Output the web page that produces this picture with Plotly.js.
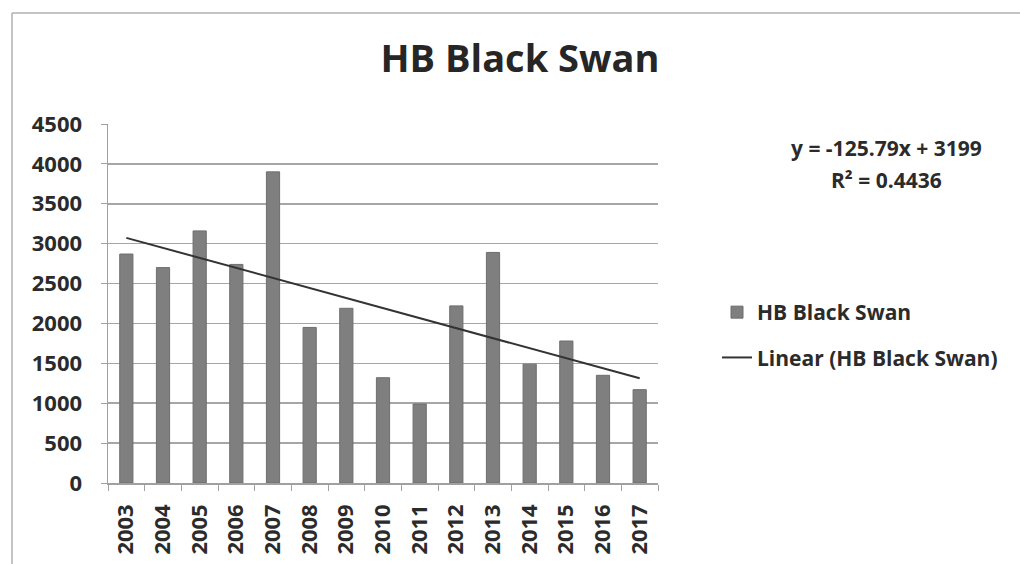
<!DOCTYPE html>
<html>
<head>
<meta charset="utf-8">
<script src="https://cdn.plot.ly/plotly-3.0.1.min.js"></script>
<style>
  html, body { margin: 0; padding: 0; background: #ffffff; }
  #chart { width: 1020px; height: 564px; }
</style>
</head>
<body>
<div id="chart"></div>
<script>
// ---- data ----
const years = ['2003','2004','2005','2006','2007','2008','2009','2010','2011','2012','2013','2014','2015','2016','2017'];
const blackSwan = [2870, 2700, 3160, 2740, 3900, 1950, 2190, 1320, 990, 2220, 2890, 1490, 1780, 1350, 1170];
const trendYears = ['2003', '2017'];
const trendValues = [3073, 1312];
const equationLines = ['y = -125.79x + 3199', 'R\u00b2 = 0.4436'];
const yTicks = [0, 500, 1000, 1500, 2000, 2500, 3000, 3500, 4000, 4500];

// ---- layout geometry ----
const W = 1020, H = 564;
const M = { l: 108, r: 362, t: 124, b: 81 };
const PW = W - M.l - M.r, PH = H - M.t - M.b;
const px = x => (x - M.l) / PW;
const py = y => (H - M.b - y) / PH;

const font = '"Open Sans", "Liberation Sans", sans-serif';
const textCol = '#2b2b2b';

const traces = [
  {
    type: 'bar',
    name: 'HB Black Swan',
    x: years,
    y: blackSwan,
    marker: { color: '#7f7f7f', line: { color: '#6e6e6e', width: 1 } },
    legendgroup: 'a',
    hoverinfo: 'x+y'
  },
  {
    type: 'scatter',
    mode: 'lines',
    name: 'Linear (HB Black Swan)',
    x: trendYears,
    y: trendValues,
    line: { color: '#333333', width: 2 },
    legendgroup: 'b'
  }
];

const layout = {
  width: W, height: H,
  margin: M,
  paper_bgcolor: '#ffffff',
  plot_bgcolor: '#ffffff',
  font: { family: font, color: textCol, size: 21 },
  bargap: 0.64,
  title: {
    text: '<b>HB Black Swan</b>',
    font: { family: font, size: 38, color: '#262626' },
    x: 520 / W, xref: 'container', xanchor: 'center',
    y: 1 - 59 / H, yref: 'container', yanchor: 'middle'
  },
  xaxis: {
    type: 'category',
    tickangle: -90,
    tickson: 'boundaries',
    ticks: 'outside', ticklen: 6, tickcolor: '#a0a0a0',
    ticklabelstandoff: 11,
    showline: true, linecolor: '#a0a0a0', linewidth: 1.5,
    showgrid: false,
    tickfont: { family: font, size: 22, color: textCol, weight: 'bold' },
    fixedrange: true
  },
  yaxis: {
    range: [0, 4500],
    tickvals: yTicks,
    ticktext: yTicks.map(String),
    ticks: 'outside', ticklen: 6, tickcolor: '#a0a0a0',
    ticklabelstandoff: 14,
    showline: true, linecolor: '#a0a0a0', linewidth: 1.5,
    showgrid: true, gridcolor: '#a6a6a6', gridwidth: 1.5,
    zeroline: false,
    tickfont: { family: font, size: 22, color: textCol, weight: 'bold' },
    fixedrange: true
  },
  showlegend: true,
  legend: {
    x: px(717), xanchor: 'left',
    y: py(292), yanchor: 'top',
    traceorder: 'grouped',
    tracegroupgap: 15,
    bgcolor: 'rgba(0,0,0,0)',
    font: { family: font, size: 21, color: textCol, weight: 'bold' }
  },
  annotations: equationLines.map((t, i) => ({
    text: '<b>' + t + '</b>',
    xref: 'paper', yref: 'paper',
    x: px(886), y: py(148 + i * 32),
    xanchor: 'center', yanchor: 'middle',
    showarrow: false,
    font: { family: font, size: 21, color: textCol }
  })),
  shapes: [
    { type: 'line', xref: 'paper', yref: 'paper', x0: px(12), x1: px(W), y0: py(13), y1: py(13), line: { color: '#b0b0b0', width: 1.5 } },
    { type: 'line', xref: 'paper', yref: 'paper', x0: px(12), x1: px(12), y0: py(13), y1: py(H), line: { color: '#b0b0b0', width: 1.5 } }
  ]
};

Plotly.newPlot('chart', traces, layout, { displayModeBar: false, staticPlot: true });
</script>
</body>
</html>
